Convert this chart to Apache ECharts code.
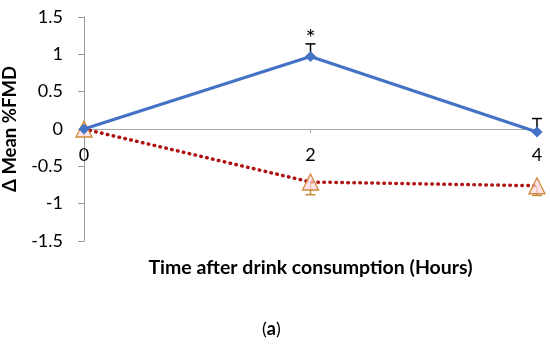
<!DOCTYPE html>
<html>
<head>
<meta charset="utf-8">
<script src="https://cdn.jsdelivr.net/npm/echarts@6/dist/echarts.min.js"></script>
<style>
  html, body { margin: 0; padding: 0; background: #fff; }
  #chart { width: 550px; height: 352px; }
</style>
</head>
<body>
<div id="chart"></div>
<script>
const hours = [0, 2, 4];
const treatMean = [0, 0.97, -0.04];
const treatErr = [0, 0.17, 0.18];
const controlMean = [0, -0.71, -0.76];
const controlErr = [0, 0.17, 0.13];
const yTicks = [-1.5, -1, -0.5, 0, 0.5, 1, 1.5];

const chart = echarts.init(document.getElementById("chart"));
const font = "Lato, 'Open Sans', sans-serif";

function errBar(dir, color) {
  return function (params, api) {
    const x = api.value(0);
    const y = api.value(1);
    const e = api.value(2);
    if (!e) return null;
    const p0 = api.coord([x, y]);
    const p1 = api.coord([x, y + dir * e]);
    const w = 5;
    return {
      type: "group",
      children: [
        { type: "line", shape: { x1: p0[0], y1: p0[1], x2: p1[0], y2: p1[1] }, style: { stroke: color, lineWidth: 1.5 } },
        { type: "line", shape: { x1: p1[0] - w, y1: p1[1], x2: p1[0] + w, y2: p1[1] }, style: { stroke: color, lineWidth: 1.5 } },
      ],
    };
  };
}

chart.setOption({
  animation: false,
  grid: { left: 84, right: 13, top: 17, bottom: 111, outerBoundsMode: "none" },
  xAxis: {
    type: "value",
    min: 0,
    max: 4,
    interval: 2,
    // sit the axis on y = 0 (half the grid height up from the bottom)
    offset: -112,
    name: "Time after drink consumption (Hours)",
    nameLocation: "middle",
    nameGap: 129,
    nameTextStyle: { fontFamily: font, fontWeight: "bold", fontSize: 19.5, color: "#000" },
    axisLine: { onZero: false, lineStyle: { color: "#a6a6a6" } },
    axisTick: { show: true, length: 4, lineStyle: { color: "#a6a6a6" } },
    axisLabel: { margin: 17, showMinLabel: true, hideOverlap: false, fontFamily: font, fontSize: 18, color: "#000" },
    splitLine: { show: false },
  },
  yAxis: {
    type: "value",
    min: -1.5,
    max: 1.5,
    interval: 0.5,
    name: "Δ Mean %FMD",
    nameLocation: "middle",
    nameGap: 64,
    nameTextStyle: { fontFamily: font, fontWeight: "bold", fontSize: 18.5, color: "#000" },
    axisLine: { show: true, onZero: false, lineStyle: { color: "#999" } },
    axisTick: { show: true, length: 6, lineStyle: { color: "#999", width: 1 } },
    axisLabel: {
      margin: 21,
      fontFamily: font,
      fontSize: 18,
      color: "#000",
      formatter: (v) => (yTicks.includes(v) ? String(v) : ""),
    },
    splitLine: { show: false },
  },
  series: [
    {
      type: "custom",
      renderItem: errBar(1, "#000"),
      data: hours.map((h, i) => [h, treatMean[i], treatErr[i]]),
      z: 1,
    },
    {
      type: "custom",
      renderItem: errBar(-1, "#c08a3a"),
      data: hours.map((h, i) => [h, controlMean[i], controlErr[i]]),
      z: 1,
    },
    {
      type: "line",
      data: hours.map((h, i) => [h, controlMean[i]]),
      symbol: "triangle",
      symbolSize: 16,
      lineStyle: { color: "#b01010", width: 3.5, type: [0.5, 5.5], cap: "round" },
      itemStyle: { color: "rgba(255,215,225,0.7)", borderColor: "#d08a3a", borderWidth: 1.3 },
      z: 2,
    },
    {
      type: "line",
      data: hours.map((h, i) => [h, treatMean[i]]),
      symbol: "diamond",
      symbolSize: 11,
      lineStyle: { color: "#4472c4", width: 3.2 },
      itemStyle: { color: "#4472c4" },
      label: {
        show: true,
        position: "top",
        distance: 1,
        fontFamily: font,
        fontSize: 24,
        color: "#000",
        formatter: (p) => (p.dataIndex === 1 ? "*" : ""),
      },
      z: 3,
    },
  ],
  graphic: [
    {
      type: "text",
      left: 262,
      top: 320,
      style: {
        text: "({a|a})",
        fontFamily: font,
        fontSize: 18,
        fill: "#000",
        rich: { a: { fontFamily: font, fontSize: 18, fontWeight: "bold", fill: "#000" } },
      },
    },
  ],
});
</script>
</body>
</html>
